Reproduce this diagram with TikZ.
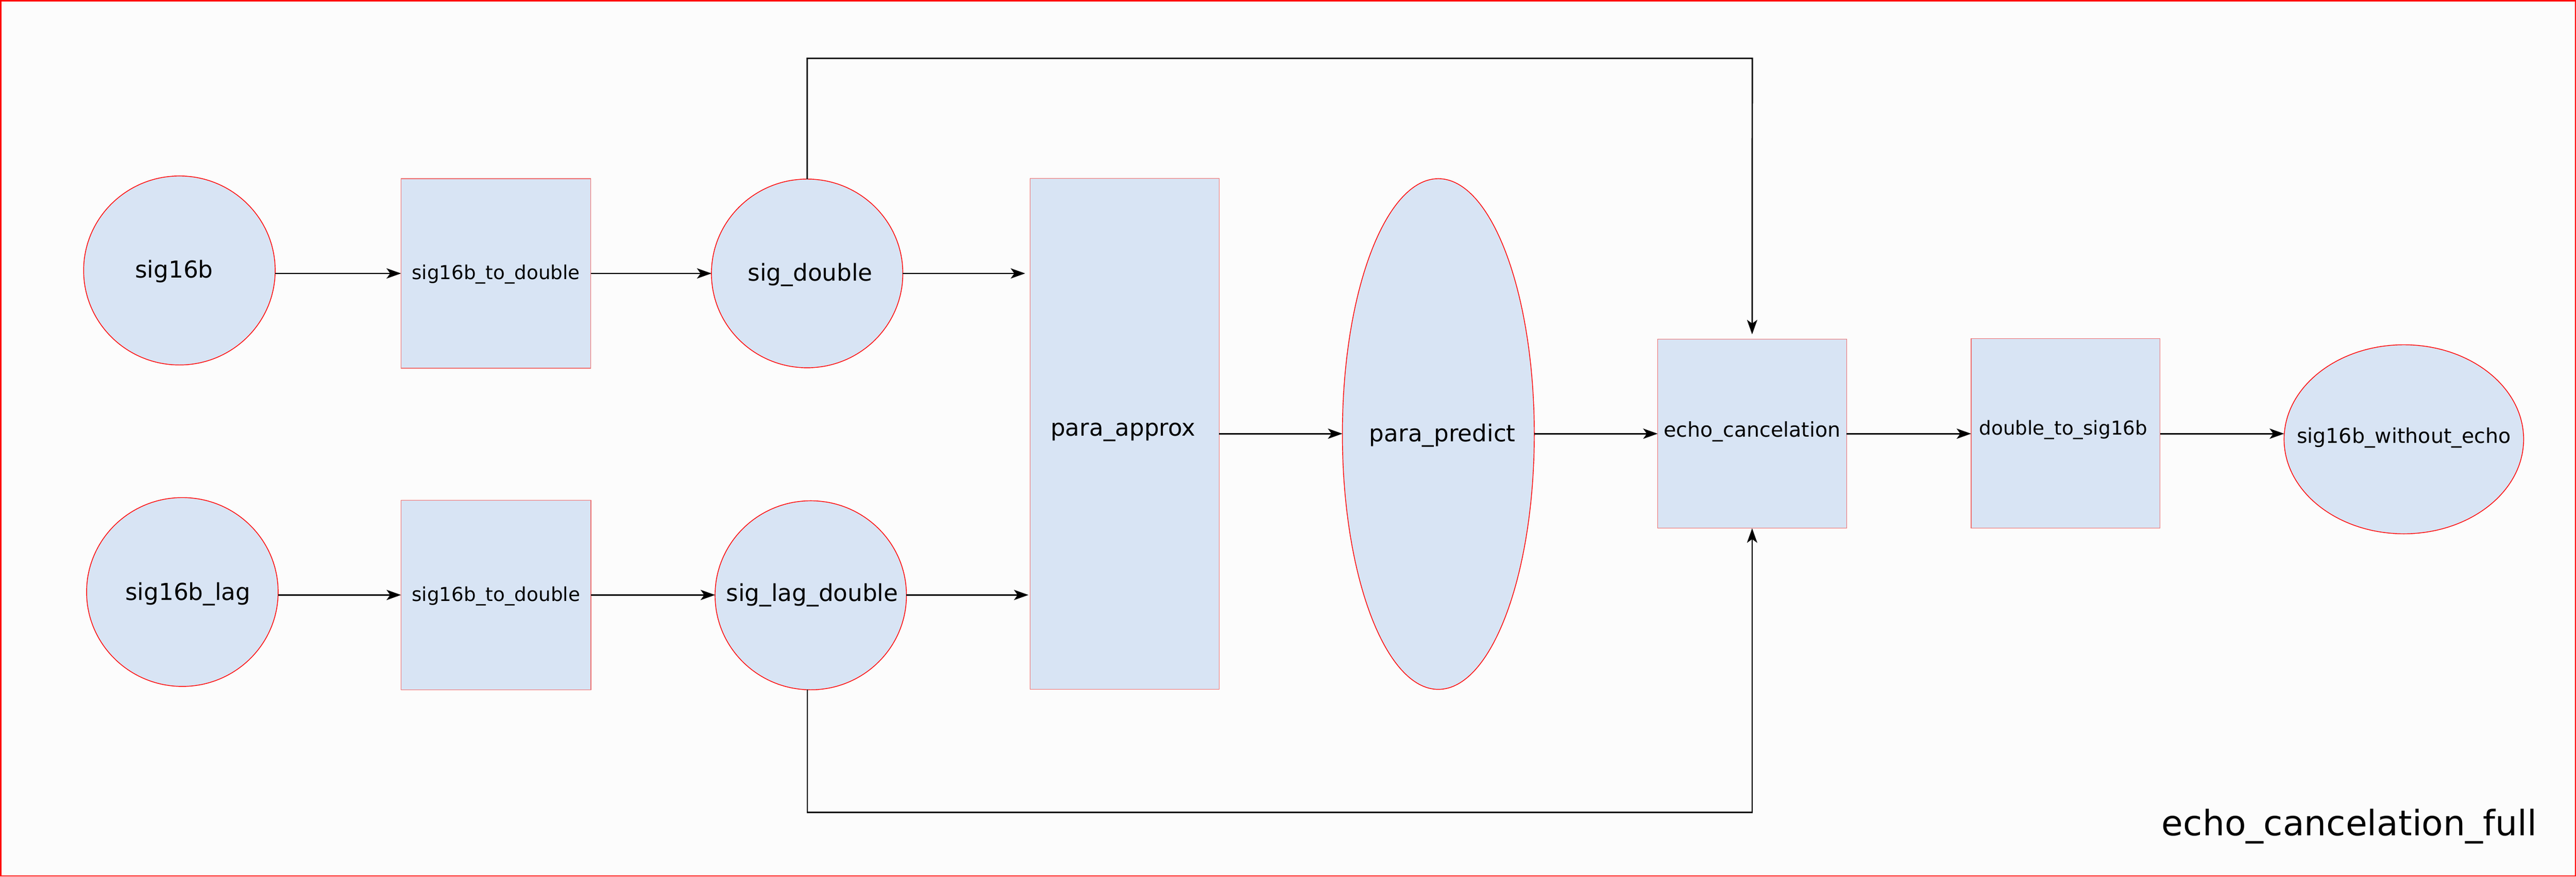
\documentclass[tikz,border=0pt]{standalone}
\usepackage{fontspec}
\setmainfont{DejaVu Sans}
\usetikzlibrary{shapes.geometric,arrows.meta}
\definecolor{shapefill}{RGB}{216,228,244}
\definecolor{bgc}{RGB}{252,252,252}
\definecolor{rectedge}{RGB}{238,110,110}
\newcommand{\lbl}[2]{\makebox[0pt]{\hspace*{#1pt}#2}}
\begin{document}
\begin{tikzpicture}[x=1pt,y=-1pt,
  oval/.style={ellipse, draw=red, line width=0.45pt, fill=shapefill, inner sep=0pt, outer sep=0pt},
  box/.style={rectangle, draw=rectedge, line width=0.35pt, fill=shapefill, inner sep=0pt, outer sep=0pt, minimum width=115pt, minimum height=115.3pt},
  big/.style={font=\fontsize{14.2}{17}\selectfont},
  small/.style={font=\fontsize{11.7}{14}\selectfont},
  mid/.style={font=\fontsize{12.4}{15}\selectfont},
  arr/.style={draw=black, line width=0.85pt, -{Stealth[length=8.8pt,width=6.2pt,inset=2.2pt]}},
  tb/.style={text height=#1, text depth=0pt}
]
\useasboundingbox (0,0) rectangle (1568,533.8);
\fill[bgc] (0,0) rectangle (1568,533.8);
\draw[red, line width=0.8pt] (0.4,0.4) rectangle (1567.6,533.4);

% upper row
\node[oval, big, minimum width=116.6pt, minimum height=115.1pt, tb=9.2pt] (s16) at (109.2,164.7) {\lbl{-6.4}{sig16b}};
\node[box, small, minimum width=115.5pt, minimum height=115.4pt, tb=7.4pt] (convA) at (301.85,166.5) {\lbl{0}{sig16b\_to\_double}};
\node[oval, big, minimum width=116.5pt, minimum height=114.9pt, tb=9.4pt] (sigd) at (491.3,166.5) {\lbl{3.8}{sig\_double}};

% lower row
\node[oval, big, minimum width=116.6pt, minimum height=115pt, tb=9.8pt] (s16lag) at (111,360.5) {\lbl{6.8}{sig16b\_lag}};
\node[box, small, minimum width=115.6pt, minimum height=115.3pt, tb=7.8pt] (convB) at (301.9,362.35) {\lbl{0}{sig16b\_to\_double}};
\node[oval, big, minimum width=116.5pt, minimum height=115.1pt, tb=7.4pt] (siglag) at (493.5,362.5) {\lbl{1.8}{sig\_lag\_double}};

% middle
\node[box, big, minimum width=115pt, minimum height=311.1pt, tb=2.6pt] (approx) at (684.5,264.15) {\lbl{-1.8}{para\_approx}};
\node[oval, big, minimum width=116.8pt, minimum height=311pt, tb=9.4pt] (predict) at (875.5,264.3) {\lbl{5}{para\_predict}};
\node[box, mid, minimum width=115pt, minimum height=115.3pt, tb=4.2pt] (echo) at (1066.5,264.05) {\lbl{0}{echo\_cancelation}};
\node[box, small, minimum width=115pt, minimum height=115.4pt, tb=2pt] (d2s) at (1257.3,263.9) {\lbl{-2.8}{double\_to\_sig16b}};
\node[oval, mid, minimum width=145.8pt, minimum height=115.1pt, tb=4.6pt] (out) at (1463.2,267.5) {\lbl{0}{sig16b\_without\_echo}};

\node[font=\fontsize{21.3}{25}\selectfont, anchor=base, inner sep=0pt] (title) at (1430,508.8) {echo\_cancelation\_full};

% connectors
\draw[arr] (s16.east |- convA.west) -- (convA.west);
\draw[arr] (convA.east) -- (sigd.west |- convA.east);
\draw[arr, shorten >=3pt] (sigd.east) -- (sigd.east -| approx.west);
\draw[arr] (s16lag.east |- 0,362.3) -- (convB.west |- 0,362.3);
\draw[arr] (convB.east |- 0,362.3) -- (siglag.west |- 0,362.3);
\draw[arr, shorten >=1pt] (siglag.east |- 0,362.3) -- (approx.west |- 0,362.3);
\draw[arr] (approx.east |- 0,264.1) -- (predict.west |- 0,264.1);
\draw[arr] (predict.east |- 0,264.1) -- (echo.west |- 0,264.1);
\draw[arr] (echo.east |- 0,264.1) -- (d2s.west |- 0,264.1);
\draw[arr] (d2s.east |- 0,264.1) -- (out.west |- 0,264.1);

\coordinate (topright) at (1066.6,35.5);
\draw[arr, shorten >=2.8pt] (sigd.north) |- (topright) -- (echo.north);
\coordinate (botleft) at (491.4,494.8);
\draw[arr] (botleft |- siglag.south) -- (botleft) -| (echo.south);
\end{tikzpicture}
\end{document}
